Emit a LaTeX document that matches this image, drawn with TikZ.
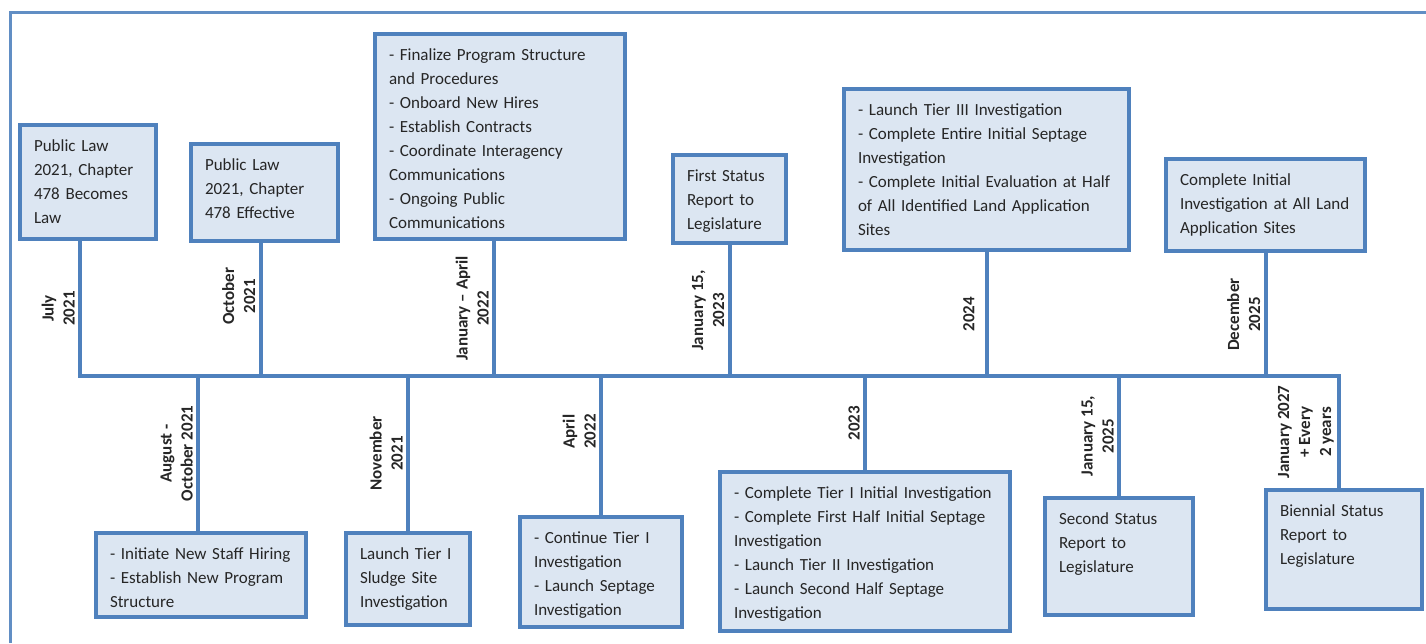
\documentclass[tikz,border=0pt]{standalone}
\usepackage{fontspec}
\setmainfont{Carlito}
\usepackage{tikz}

\definecolor{tlblue}{HTML}{4F81BD}
\definecolor{tlfill}{HTML}{DCE6F2}
\definecolor{tltext}{HTML}{262626}

\begin{document}
\begin{tikzpicture}[
                    x=1pt,
                    y=-1pt,
                    stem/.style={draw=tlblue, line width=4pt},
                    frame/.style={draw=tlblue!90, line width=3pt},
                    wide/.style args={#1 by #2}{text width=#1pt, text depth=#2pt}
                ]
                \tikzstyle{event}=[
                    draw=tlblue,
                    line width=4pt,
                    outer sep=2pt,
                    fill=tlfill,
                    text=tltext,
                    anchor=north west,
                    align=left,
                    inner xsep=14pt,
                    inner ysep=10pt,
                    text height=16pt,
                    font=\fontsize{17}{24}\selectfont
                ]
                \tikzstyle{when}=[
                    midway,
                    rotate=90,
                    anchor=south,
                    align=center,
                    text=tltext,
                    font=\fontsize{17}{21}\selectfont\bfseries
                ]

                \useasboundingbox (0,0) rectangle (1426,643);
                \draw[frame] (10,643) -- (10,12) -- (1426,12);

                \coordinate (axis) at (0,376);

                % above the line
                \node[event, wide=108 by 78] (lawA) at (18,123)
                    {Public Law\\2021, Chapter\\478 Becomes\\Law} ;
                \node[event, wide=119 by 61] (lawB) at (189,142)
                    {Public Law\\2021, Chapter\\478 Effective} ;
                \node[event, wide=222 by 169] (startup) at (373,32)
                    {- Finalize Program Structure\\and Procedures\\- Onboard New Hires\\- Establish Contracts\\- Coordinate Interagency\\Communications\\- Ongoing Public\\Communications} ;
                \node[event, wide=85 by 52] (firstRpt) at (671,153)
                    {First Status\\Report to\\Legislature} ;
                \node[event, wide=257 by 125] (tierThree) at (842,87)
                    {- Launch Tier III Investigation\\- Complete Entire Initial Septage\\Investigation\\- Complete Initial Evaluation at Half\\of All Identified Land Application\\Sites} ;
                \node[event, wide=171 by 56] (landSites) at (1164,157)
                    {Complete Initial\\Investigation at All Land\\Application Sites} ;

                % below the line
                \node[event, wide=182 by 48] (hiring) at (94,531)
                    {- Initiate New Staff Hiring\\- Establish New Program\\Structure} ;
                \node[event, wide=96 by 56] (sludge) at (344,531)
                    {Launch Tier I\\Sludge Site\\Investigation} ;
                \node[event, wide=134 by 74] (septage) at (518,515)
                    {- Continue Tier I\\Investigation\\- Launch Septage\\Investigation} ;
                \node[event, wide=262 by 123] (tierOne) at (718,470)
                    {- Complete Tier I Initial Investigation\\- Complete First Half Initial Septage\\Investigation\\- Launch Tier II Investigation\\- Launch Second Half Septage\\Investigation} ;
                \node[event, wide=120 by 81] (secondRpt) at (1043,496)
                    {Second Status\\Report to\\Legislature} ;
                \node[event, wide=128 by 83] (biennial) at (1264,488)
                    {Biennial Status\\Report to\\Legislature} ;

                % the line itself, from first to last
                \draw[stem] ([xshift=-8pt]lawA.south)
                    -- node[when] {July\\2021} ([xshift=-8pt]lawA.south |- axis)
                    -- ([xshift=-5pt]biennial.north |- axis)
                    -- node[when] {January 2027\\+ Every\\2 years} ([xshift=-5pt]biennial.north) ;

                \draw[stem] ([xshift=-4pt]lawB.south) -- node[when, pos=.4] {October\\2021} ([xshift=-4pt]lawB.south |- axis) ;
                \draw[stem] ([xshift=-6pt]startup.south) -- node[when] {January -- April\\2022} ([xshift=-6pt]startup.south |- axis) ;
                \draw[stem] (firstRpt.south) -- node[when] {January 15,\\2023} (firstRpt.south |- axis) ;
                \draw[stem] (tierThree.south) -- node[when, inner ysep=10pt] {2024} (tierThree.south |- axis) ;
                \draw[stem] (landSites.south) -- node[when] {December\\2025} (landSites.south |- axis) ;

                \draw[stem] ([xshift=-3pt]hiring.north) -- node[when] {August -\\October 2021} ([xshift=-3pt]hiring.north |- axis) ;
                \draw[stem] (sludge.north) -- node[when] {November\\2021} (sludge.north |- axis) ;
                \draw[stem] (septage.north) -- node[when, pos=.6] {April\\2022} (septage.north |- axis) ;
                \draw[stem] (tierOne.north) -- node[when] {2023} (tierOne.north |- axis) ;
                \draw[stem] (secondRpt.north) -- node[when] {January 15,\\2025} (secondRpt.north |- axis) ;
\end{tikzpicture}
\end{document}
